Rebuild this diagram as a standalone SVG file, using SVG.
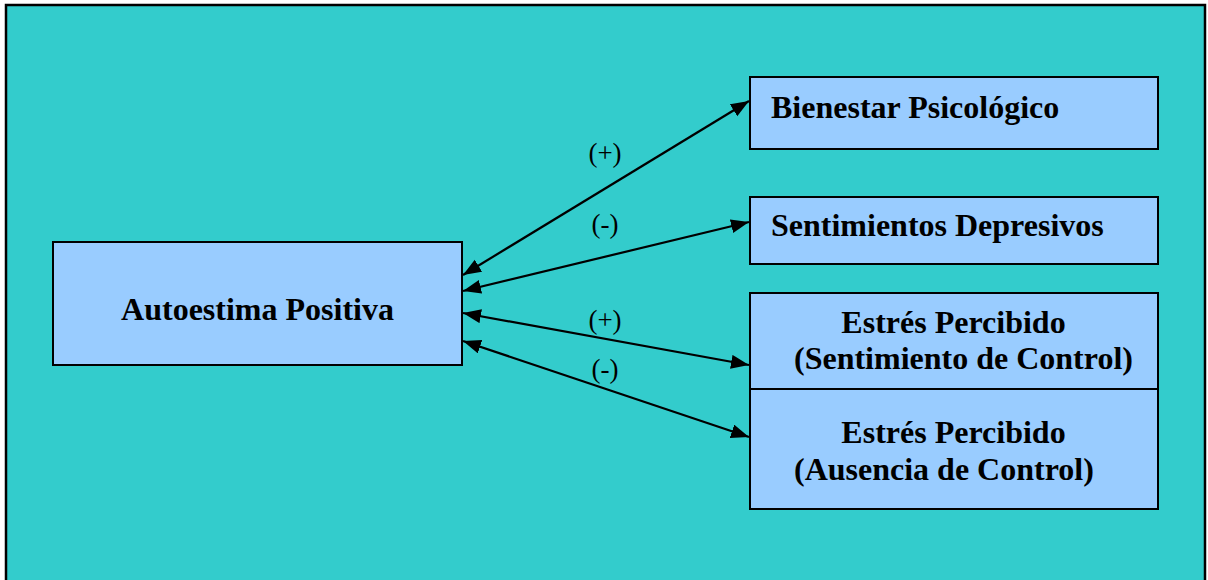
<svg xmlns="http://www.w3.org/2000/svg" width="1208" height="580" viewBox="0 0 1208 580">
  <defs>
    <marker id="arr" markerUnits="userSpaceOnUse" markerWidth="20" markerHeight="16" refX="18" refY="7" orient="auto-start-reverse">
      <path d="M0,0 L18,7 L0,14 z" fill="#000"/>
    </marker>
    <style>
      .box { fill: #99CCFF; stroke: #000; stroke-width: 2; }
      .t { font-family: "Liberation Serif", "Times New Roman", serif; font-weight: bold; font-size: 32px; fill: #000; }
      .lbl { font-family: "Liberation Serif", "Times New Roman", serif; font-size: 27px; fill: #000; text-anchor: middle; }
      .conn { stroke: #000; stroke-width: 2.2; fill: none; marker-start: url(#arr); marker-end: url(#arr); }
    </style>
  </defs>
  <rect x="0" y="0" width="1208" height="580" fill="#ffffff"/>
  <rect x="6" y="5" width="1199" height="600" fill="#33CCCC" stroke="#000" stroke-width="2.5"/>

  <g id="autoestima">
    <rect class="box" x="53" y="242" width="409" height="123"/>
    <text class="t" x="257.5" y="320" text-anchor="middle">Autoestima Positiva</text>
  </g>
  <g id="bienestar">
    <rect class="box" x="750" y="77" width="408" height="72"/>
    <text class="t" x="771" y="118">Bienestar Psicológico</text>
  </g>
  <g id="sentimientos">
    <rect class="box" x="750" y="197" width="408" height="67"/>
    <text class="t" x="771" y="236">Sentimientos Depresivos</text>
  </g>
  <g id="estres-control">
    <rect class="box" x="750" y="293" width="408" height="96"/>
    <text class="t" x="953.5" y="333" text-anchor="middle">Estrés Percibido</text>
    <text class="t" x="794" y="369">(Sentimiento de Control)</text>
  </g>
  <g id="estres-ausencia">
    <rect class="box" x="750" y="389" width="408" height="120"/>
    <text class="t" x="953.5" y="443" text-anchor="middle">Estrés Percibido</text>
    <text class="t" x="794" y="480">(Ausencia de Control)</text>
  </g>

  <g id="connectors">
    <line class="conn" x1="463" y1="275" x2="749" y2="101"/>
    <line class="conn" x1="463" y1="291" x2="749" y2="222"/>
    <line class="conn" x1="463" y1="313" x2="749" y2="365"/>
    <line class="conn" x1="463" y1="341" x2="749" y2="437"/>
    <text class="lbl" x="605" y="162">(+)</text>
    <text class="lbl" x="605" y="233">(-)</text>
    <text class="lbl" x="605" y="329">(+)</text>
    <text class="lbl" x="605" y="378">(-)</text>
  </g>
</svg>
